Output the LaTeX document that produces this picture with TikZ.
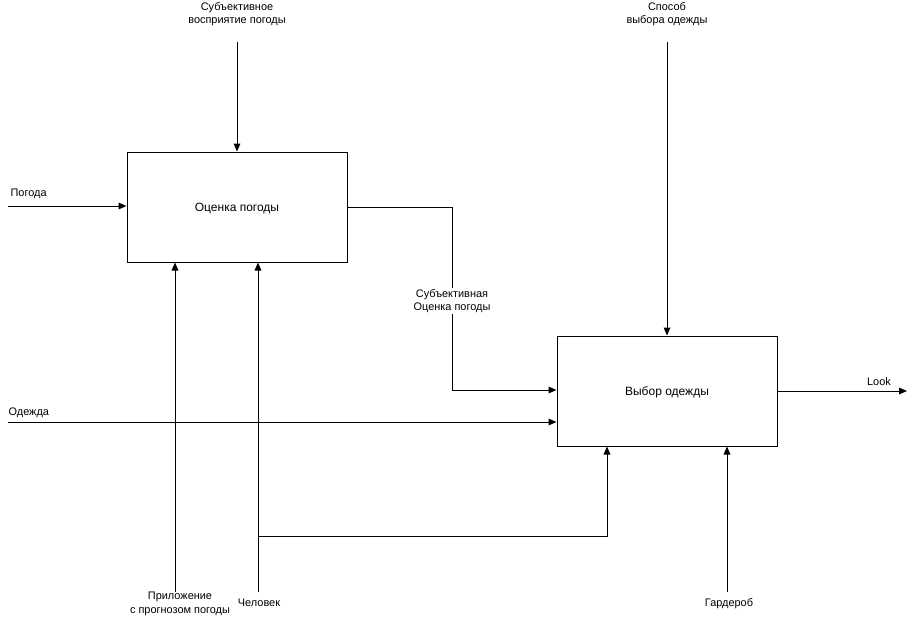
\documentclass[tikz,border=0pt]{standalone}
\usepackage{fontspec}
\setmainfont{Liberation Sans}
\usetikzlibrary{arrows.meta}
\begin{document}
\begin{tikzpicture}[x=0.75pt,y=-0.75pt,
  every node/.style={font=\fontsize{8.2pt}{10pt}\selectfont, inner sep=1pt},
  func/.style={draw, line width=0.75pt, minimum width=165pt, minimum height=82.5pt, inner sep=0pt},
  functext/.style={font=\fontsize{9pt}{11pt}\selectfont},
  flow/.style={line width=0.75pt, -{Triangle[length=6pt,width=5pt]}},
  lbl/.style={align=center},
  cutlbl/.style={align=center, fill=white, inner sep=1pt}]
\useasboundingbox (0,0) rectangle (917,617);

% activity boxes
\node[func] (eval) at (237,207) {};
\node[func] (pick) at (667,391) {};
\node[functext] (evalT) at (237,209) {Оценка погоды};
\node[functext] (pickT) at (667,392) {Выбор одежды};

% free ends of connectors
\coordinate (ctlA) at (237,42);
\coordinate (ctlB) at (667,42);
\coordinate (inW)  at (8,206);
\coordinate (inC)  at (8,422);
\coordinate (outL) at (907,391);
\coordinate (mApp) at (175,592);
\coordinate (mMan) at (258,592);
\coordinate (mWar) at (727,592);
\coordinate (split) at (258,536);

% labels
\node[lbl] (tA) at (237,14) {Субъективное\\восприятие погоды};
\node[lbl] (tB) at (667,14) {Способ\\выбора одежды};
\node[anchor=west] (tW) at (9,194) {Погода};
\node[anchor=west] (tC) at (7,413) {Одежда};
\node (tL) at (879,382) {Look};
\node[lbl] (tApp) at (180,604) {Приложение\\с прогнозом погоды};
\node (tMan) at (259,603) {Человек};
\node (tWar) at (729,604) {Гардероб};

% controls
\draw[flow] (ctlA) -- (eval.north);
\draw[flow] (ctlB) -- (pick.north);

% inputs
\draw[flow] (inW) -- (eval.west |- inW);
\draw[flow] (inC) -- (pick.west |- inC);

% output of the first activity feeding the second
\draw[flow] (eval.east |- 0,207) -- (452,207) -- (452,390) -- (pick.west |- 0,390);
\node[cutlbl] (tS) at (452,301) {Субъективная\\Оценка погоды};

% output
\draw[flow] (pick.east) -- (outL);

% mechanisms
\draw[flow] (mApp) -- (eval.south -| mApp);
\draw[flow] (mMan) -- (eval.south -| mMan);
\draw[flow] (split) -- (607,536) -- (pick.south -| 607,0);
\draw[flow] (mWar) -- (pick.south -| mWar);
\end{tikzpicture}
\end{document}
